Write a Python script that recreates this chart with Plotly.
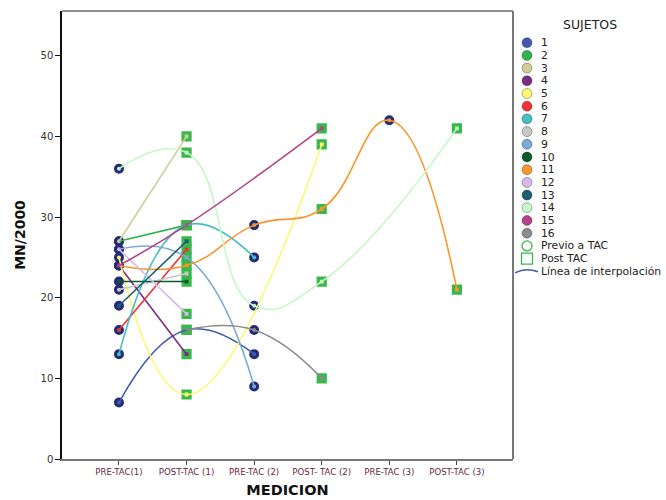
import plotly.graph_objects as go

# ---------------- data ----------------
subjects = [str(i) for i in range(1, 17)]
measurements = ["PRE-TAC(1)", "POST-TAC (1)", "PRE-TAC (2)", "POST- TAC (2)",
                "PRE-TAC (3)", "POST-TAC (3)"]
is_post = [False, True, False, True, False, True]

pre_tac_1 = [7, 27, 27, 24, 25, 16, 13, 21, 26, 22, 24, 26, 19, 36, 24, None]
post_tac_1 = [16, 29, 40, 13, 8, 26, 29, 23, 25, 22, 24, 18, 27, 38, 29, 16]
pre_tac_2 = [13, None, None, None, None, None, 25, None, 9, None, 29, None, None, 19, None, 16]
post_tac_2 = [None, None, None, None, 39, None, None, None, None, None, 31, None, None, 22, 41, 10]
pre_tac_3 = [None, None, None, None, None, None, None, None, None, None, 42, None, None, None, None, None]
post_tac_3 = [None, None, None, None, None, None, None, None, None, None, 21, None, None, 41, None, None]
series = [pre_tac_1, post_tac_1, pre_tac_2, post_tac_2, pre_tac_3, post_tac_3]

colors = ["#3f5bb0", "#2fb44a", "#d2cd98", "#7b2a86", "#fdf96f", "#ee3337",
          "#46bfc3", "#c8c8c8", "#78a9d8", "#0b5a2a", "#f7962a", "#d6b9ea",
          "#1c5e74", "#c6f7c6", "#b7418a", "#8c8c8c"]

y_ticks = [0, 10, 20, 30, 40, 50]

NAVY = "#262b78"
GREEN = "#38b84b"

fig = go.Figure()

# markers first
for m, vals in enumerate(series):
    xs, ys, cs = [], [], []
    for s, v in enumerate(vals):
        if v is not None:
            xs.append(m); ys.append(v); cs.append(colors[s])
    if is_post[m]:
        mk = dict(symbol="square", size=7, color=cs, line=dict(color=GREEN, width=3.2))
    else:
        mk = dict(symbol="circle", size=7, color=cs, line=dict(color=NAVY, width=3))
    fig.add_trace(go.Scatter(x=xs, y=ys, mode="markers", marker=mk,
                             showlegend=False, hoverinfo="skip"))

# interpolation lines on top
for s in range(len(subjects)):
    xs, ys = [], []
    for m, vals in enumerate(series):
        if vals[s] is not None:
            xs.append(m); ys.append(vals[s])
    fig.add_trace(go.Scatter(x=xs, y=ys, mode="lines",
                             line=dict(color=colors[s], width=1.6, shape="spline", smoothing=1.3),
                             showlegend=False, hoverinfo="skip"))

# ---------------- custom legend (pixel-coordinate axes) ----------------
LEG_X = 527
LEG_Y0 = 42.7
LEG_DY = 12.7
leg_y = [LEG_Y0 + LEG_DY * i for i in range(len(subjects))]
fig.add_trace(go.Scatter(
    x=[LEG_X] * len(subjects), y=leg_y, mode="markers",
    marker=dict(symbol="circle", size=10, color=colors,
                line=dict(color="rgba(0,0,0,0.3)", width=1)),
    xaxis="x2", yaxis="y2", showlegend=False, hoverinfo="skip"))
y_prev = LEG_Y0 + LEG_DY * 16
y_post = LEG_Y0 + LEG_DY * 17
y_line = LEG_Y0 + LEG_DY * 18
fig.add_trace(go.Scatter(x=[LEG_X], y=[y_prev], mode="markers",
                         marker=dict(symbol="circle-open", size=10, color=GREEN, line=dict(width=1.3)),
                         xaxis="x2", yaxis="y2", showlegend=False, hoverinfo="skip"))
fig.add_trace(go.Scatter(x=[LEG_X], y=[y_post], mode="markers",
                         marker=dict(symbol="square-open", size=11, color=GREEN, line=dict(width=1.3)),
                         xaxis="x2", yaxis="y2", showlegend=False, hoverinfo="skip"))

annotations = []
annotations.append(dict(x=590, y=24, xref="x2", yref="y2", text="SUJETOS", showarrow=False,
                        xanchor="center", yanchor="middle",
                        font=dict(family="DejaVu Sans", size=12.5, color="#222")))
leg_font = dict(family="DejaVu Sans", size=10.8, color="#222")
for i, name in enumerate(subjects):
    annotations.append(dict(x=539, y=leg_y[i], xref="x2", yref="y2", text=name, showarrow=False,
                            xanchor="left", yanchor="middle", font=leg_font))
for yy, name in [(y_prev, "Previo a TAC"), (y_post, "Post TAC"), (y_line, "Línea de interpolación")]:
    annotations.append(dict(x=539, y=yy, xref="x2", yref="y2", text=name, showarrow=False,
                            xanchor="left", yanchor="middle", font=leg_font))

shapes = [
    # interpolation-line glyph in legend
    dict(type="path", xref="x2", yref="y2",
         path=f"M 515 {y_line + 1.5} Q 526 {y_line - 4} 538 {y_line + 0.5}",
         line=dict(color="#3f5bb0", width=1.5)),
    # frame: top and right
    dict(type="line", xref="x domain", yref="y domain", x0=0, x1=1, y0=1, y1=1,
         line=dict(color="#222", width=1)),
    dict(type="line", xref="x domain", yref="y domain", x0=1, x1=1, y0=0, y1=1,
         line=dict(color="#777", width=2)),
]

fig.update_layout(
    width=666, height=500,
    margin=dict(l=62, r=0, t=11, b=41),
    paper_bgcolor="white", plot_bgcolor="white",
    annotations=annotations, shapes=shapes,
    xaxis=dict(domain=[0, 451 / 604], range=[-0.843, 5.83],
               tickmode="array", tickvals=list(range(len(measurements))), ticktext=measurements,
               tickfont=dict(family="DejaVu Sans", size=8.6, color="#6b1f3f"),
               showline=True, linecolor="#777", linewidth=1.5,
               ticks="outside", ticklen=4, tickcolor="#444", tickwidth=1,
               showgrid=False, zeroline=False,
               title=dict(text="MEDICION", standoff=9,
                          font=dict(family="DejaVu Sans", size=14.5, color="#111", weight="bold"))),
    yaxis=dict(range=[0, 55.55], tickmode="array", tickvals=y_ticks,
               tickfont=dict(family="DejaVu Sans", size=10, color="#333"),
               showline=True, linecolor="#111", linewidth=1.5,
               ticks="outside", ticklen=5, tickcolor="#111", tickwidth=1,
               showgrid=False, zeroline=False,
               title=dict(text="MN/2000", standoff=12,
                          font=dict(family="DejaVu Sans", size=14, color="#111", weight="bold"))),
    xaxis2=dict(domain=[453 / 604, 1], range=[515, 666], visible=False, anchor="y2",
                fixedrange=True),
    yaxis2=dict(domain=[0, 1], range=[459, 11], visible=False, anchor="x2", fixedrange=True),
)

fig.write_html("out.html")
